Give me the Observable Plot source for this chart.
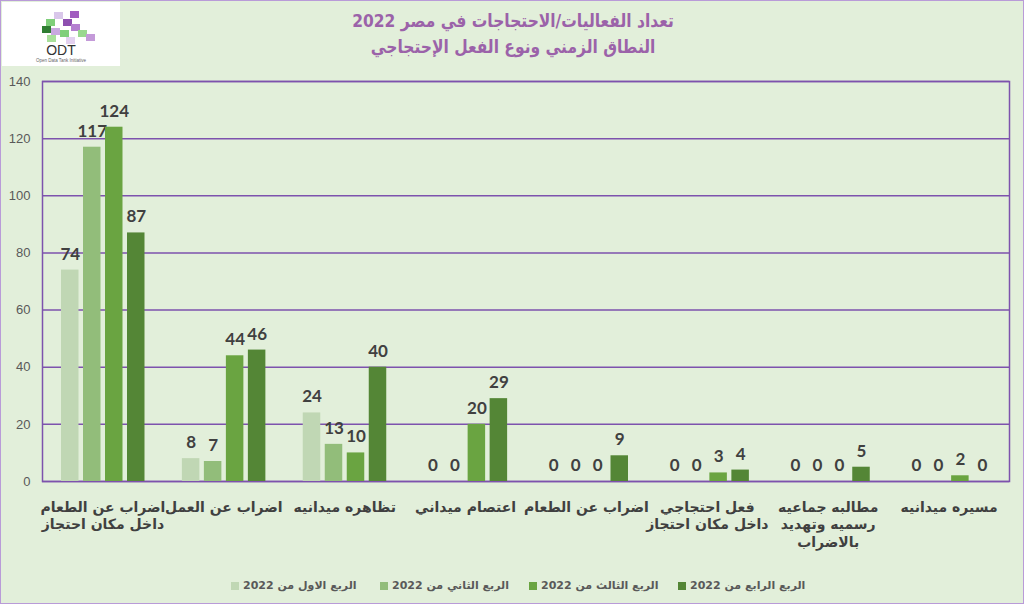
<!DOCTYPE html>
<html>
<head>
<meta charset="utf-8">
<script src="https://cdn.jsdelivr.net/npm/d3@7"></script>
<script src="https://cdn.jsdelivr.net/npm/@observablehq/plot@0.6"></script>
<style>
  html, body { margin: 0; padding: 0; }
  body { width: 1024px; height: 604px; background: #e2efda; position: relative; overflow: hidden; font-family: "DejaVu Sans", sans-serif; }
  #border { position: absolute; left: 0; top: 0; width: 1024px; height: 604px; box-sizing: border-box; border: 1px solid #b99bd8; pointer-events: none; }
  #logo { position: absolute; left: 2px; top: 2px; width: 118px; height: 64px; background: #ffffff; }
  #title { position: absolute; left: 263px; width: 500px; top: 8px; text-align: center; direction: rtl; color: #9b62a9; font-weight: bold; font-size: 18px; line-height: 26px; transform: scaleX(0.86); transform-origin: 50% 0; }
  #chart { position: absolute; left: 0; top: 72px; }
  #legend { position: absolute; left: 231px; top: 579px; display: flex; }
  .item { width: 149px; display: flex; align-items: center; }
  .sw { width: 8px; height: 8px; margin-right: 4px; }
  .lt { direction: rtl; font-size: 11px; font-weight: bold; color: #595959; white-space: nowrap; }
</style>
</head>
<body>
<div id="logo">
  <svg width="118" height="64">
    <rect x="44" y="17" width="9" height="7" fill="#7fcf7a"/>
    <rect x="52" y="10" width="9" height="7" fill="#d9c7ea"/>
    <rect x="61" y="17" width="9" height="7" fill="#8e4fb0"/>
    <rect x="68" y="9" width="9" height="7" fill="#a15cc0"/>
    <rect x="40" y="24" width="9" height="7" fill="#2f7d32"/>
    <rect x="49" y="26" width="9" height="7" fill="#c9a8e0"/>
    <rect x="58" y="28" width="9" height="7" fill="#7fcf7a"/>
    <rect x="69" y="22" width="9" height="7" fill="#b47fd0"/>
    <rect x="76" y="28" width="9" height="7" fill="#9ad88f"/>
    <rect x="45" y="33" width="9" height="7" fill="#a8e09a"/>
    <rect x="64" y="35" width="9" height="7" fill="#e3d1f0"/>
    <rect x="84" y="32" width="9" height="7" fill="#c49ad9"/>
    <text x="59" y="53" text-anchor="middle" font-family="Liberation Sans" font-size="14" fill="#333">ODT</text>
    <text x="59" y="60" text-anchor="middle" font-family="Liberation Sans" font-size="4.5" fill="#666">Open Data Tank Initiative</text>
  </svg>
</div>
<div id="title">تعداد الفعاليات/الاحتجاجات في مصر 2022<br>النطاق الزمني ونوع الفعل الإحتجاجي</div>
<div id="chart"></div>
<div id="legend"></div>
<div id="border"></div>
<script>
// ---- data ----
const categories = [
  "اضراب عن الطعام\nداخل مكان احتجاز",
  "اضراب عن العمل",
  "تظاهره ميدانيه",
  "اعتصام ميداني",
  "اضراب عن الطعام",
  "فعل احتجاجي\nداخل مكان احتجاز",
  "مطالبه جماعيه\nرسميه وتهديد\nبالاضراب",
  "مسيره ميدانيه"
];
const q1 = [74, 8, 24, 0, 0, 0, 0, 0];
const q2 = [117, 7, 13, 0, 0, 0, 0, 0];
const q3 = [124, 44, 10, 20, 0, 3, 0, 2];
const q4 = [87, 46, 40, 29, 9, 4, 5, 0];
const seriesNames = ["الربع الاول من 2022", "الربع الثاني من 2022", "الربع الثالث من 2022", "الربع الرابع من 2022"];
const yTicks = [0, 20, 40, 60, 80, 100, 120, 140];

// ---- styles ----
const colors = ["#c0d7b4", "#92bd7a", "#6aa441", "#548636"];
const purple = "#7d52ad";
const series = [q1, q2, q3, q4];

const marginLeft = 42, marginRight = 15, width = 1024;
const band = (width - marginLeft - marginRight) / categories.length;
const barW = 17.5, firstOff = 19, step = 22;

const marks = [
  Plot.ruleY(yTicks, {stroke: purple, strokeWidth: 1.5}),
  Plot.frame({stroke: purple, strokeWidth: 1.5})
];
series.forEach((vals, i) => {
  const rows = categories.map((c, k) => ({cat: c, v: vals[k]}));
  const L = firstOff + step * i;
  marks.push(Plot.barY(rows, {
    x: "cat", y: "v", fill: colors[i],
    insetLeft: L, insetRight: band - L - barW
  }));
  marks.push(Plot.text(rows, {
    x: "cat", y: "v", text: d => String(d.v),
    dx: L + barW / 2 - band / 2, dy: -16,
    fontSize: 17, fontWeight: "bold", fill: "#404040",
    fontFamily: "Lato, 'Open Sans', sans-serif"
  }));
});
marks.push(Plot.axisX({
  tickSize: 0, tickPadding: 18, fontSize: 14, fontWeight: "bold",
  fill: "#404040", fontFamily: "DejaVu Sans", lineHeight: 1.25,
  tickFormat: d => d
}));
marks.push(Plot.axisY({
  ticks: yTicks, tickSize: 0, tickPadding: 12, fontSize: 13,
  fill: "#595959", fontFamily: "Liberation Sans", tickFormat: d => String(d)
}));

const chart = Plot.plot({
  width, height: 500,
  marginLeft, marginRight, marginTop: 9, marginBottom: 91,
  style: {background: "transparent", overflow: "visible"},
  x: {domain: categories, padding: 0, round: false, label: null},
  y: {domain: [0, 140], label: null},
  marks
});
document.getElementById("chart").appendChild(chart);

const legend = document.getElementById("legend");
seriesNames.forEach((name, i) => {
  const item = document.createElement("div");
  item.className = "item";
  const sw = document.createElement("div");
  sw.className = "sw";
  sw.style.background = colors[i];
  const t = document.createElement("span");
  t.className = "lt";
  t.textContent = name;
  item.appendChild(sw);
  item.appendChild(t);
  legend.appendChild(item);
});
</script>
</body>
</html>
